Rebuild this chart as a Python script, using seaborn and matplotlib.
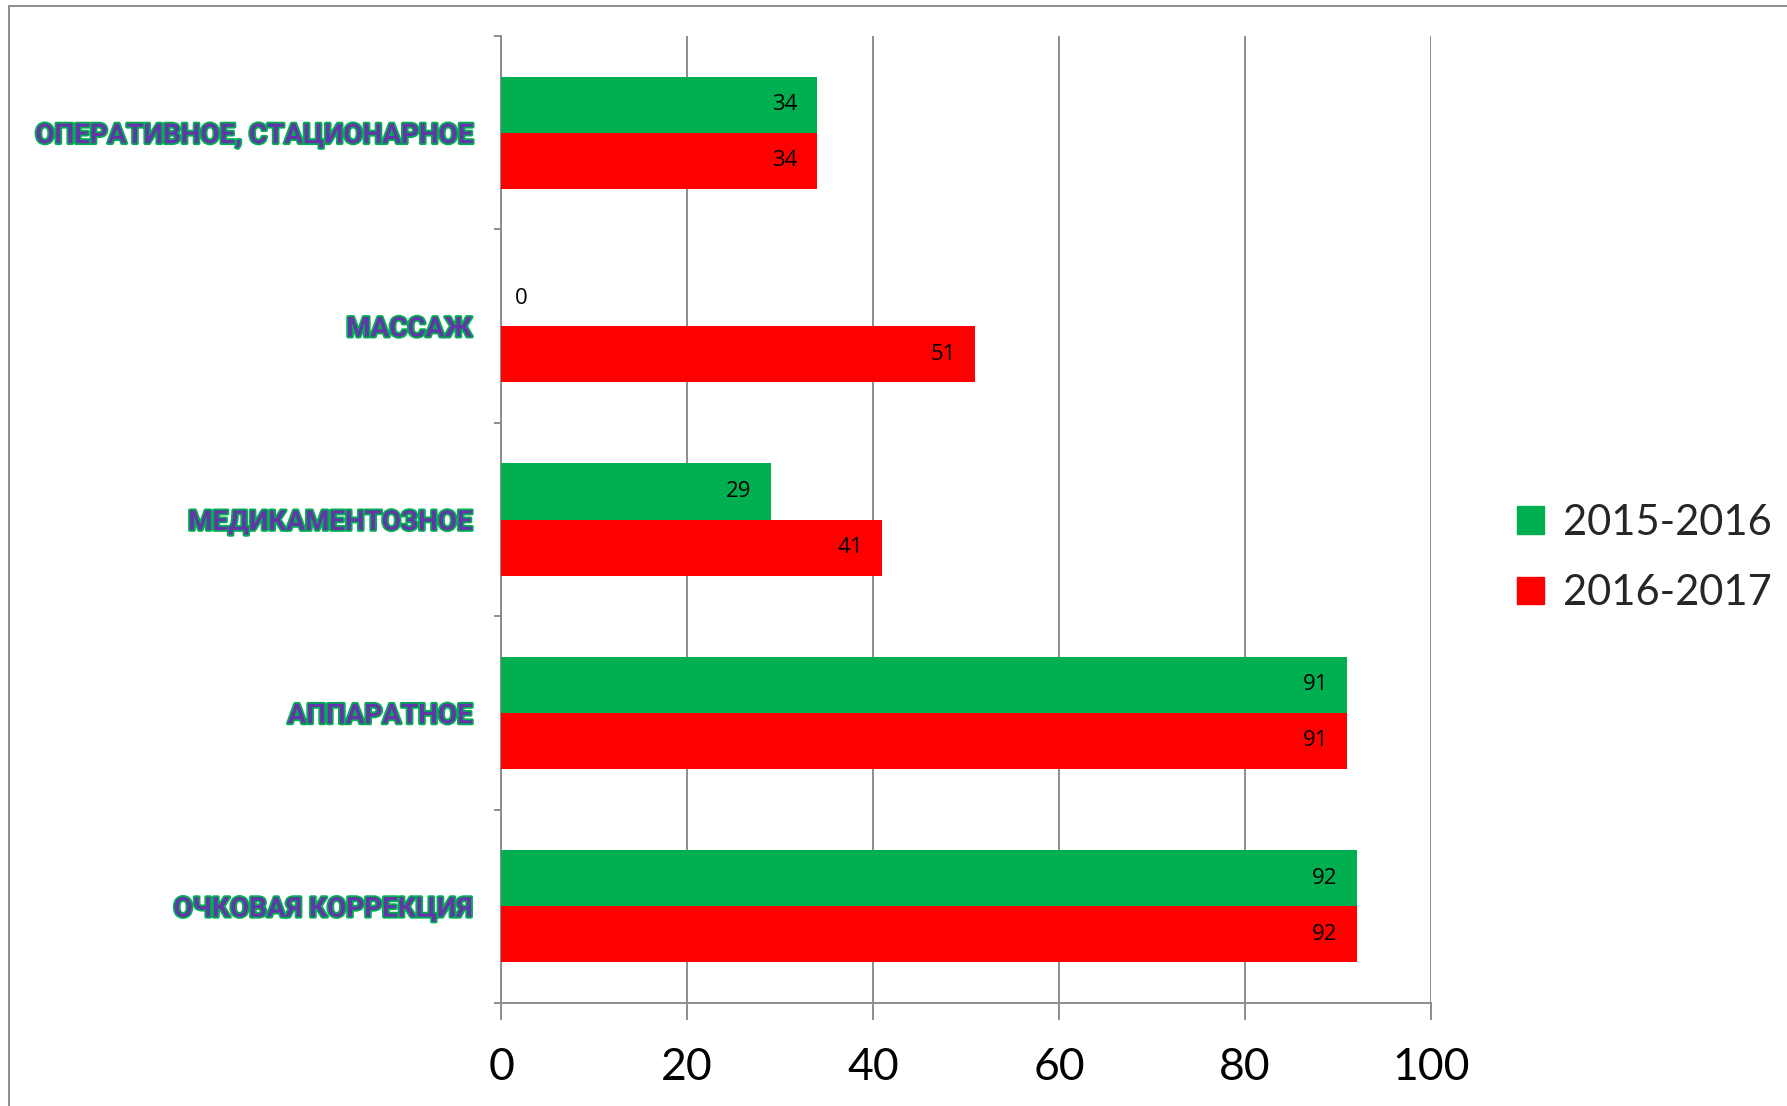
import pandas as pd
import numpy as np
import matplotlib.pyplot as plt
import matplotlib.patheffects as pe
from matplotlib.lines import Line2D
import seaborn as sns

categories = ['ОПЕРАТИВНОЕ, СТАЦИОНАРНОЕ', 'МАССАЖ', 'МЕДИКАМЕНТОЗНОЕ',
              'АППАРАТНОЕ', 'ОЧКОВАЯ КОРРЕКЦИЯ']
years = ['2015-2016', '2016-2017']
values_2015 = [34, 0, 29, 91, 92]
values_2016 = [34, 51, 41, 91, 92]

df = pd.DataFrame({
    'category': categories * 2,
    'year': [years[0]] * 5 + [years[1]] * 5,
    'value': values_2015 + values_2016,
})

sns.set_style('white')
plt.rcParams['font.family'] = ['Lato', 'Open Sans', 'DejaVu Sans']

fig = plt.figure(figsize=(17.87, 11.06), dpi=100)
ax = fig.add_axes([0.2804, 0.0931, 0.5204, 0.8743])

sns.barplot(data=df, y='category', x='value', hue='year', orient='h',
            order=categories, hue_order=years,
            palette=['#00B050', '#FF0000'], width=0.58, saturation=1,
            linewidth=0, ax=ax, zorder=3)

ax.set_xlim(0, 100)
ax.set_ylim(4.5, -0.5)
ax.set_xticks(np.arange(0, 101, 20))
ax.set_xlabel('')
ax.set_ylabel('')

grid_c = '#8c8c8c'
ax.grid(axis='x', color=grid_c, linewidth=1.4, zorder=0)
ax.grid(axis='y', visible=False)
for s in ['top', 'right']:
    ax.spines[s].set_visible(False)
for s in ['left', 'bottom']:
    ax.spines[s].set_color(grid_c)
    ax.spines[s].set_linewidth(1.4)

ax.tick_params(axis='x', direction='out', length=12, width=1.4, color=grid_c,
               labelsize=32, pad=20, bottom=True, labelcolor='black')
ax.set_yticks(np.arange(-0.5, 5, 1), minor=True)
ax.tick_params(axis='y', which='minor', direction='out', length=5, width=1.4,
               color=grid_c, left=True)
ax.tick_params(axis='y', which='major', length=0, pad=21)

for lab in ax.get_yticklabels():
    lab.set_fontsize(20)
    lab.set_fontweight('bold')
    lab.set_family(['Roboto', 'Noto Sans', 'DejaVu Sans'])
    lab.set_color('#6236a8')
    lab.set_path_effects([pe.withStroke(linewidth=2.6, foreground='#00B050')])

for cont in ax.containers:
    for p in cont:
        w = p.get_width()
        yc = p.get_y() + p.get_height() / 2
        if w > 0:
            ax.annotate(f'{w:.0f}', (w, yc), xytext=(-14, 0),
                        textcoords='offset points', ha='right', va='center',
                        fontsize=16, color='black',
                        family=['Open Sans', 'DejaVu Sans'])
        else:
            ax.annotate(f'{w:.0f}', (w, yc), xytext=(10, 0),
                        textcoords='offset points', ha='left', va='center',
                        fontsize=16, color='black',
                        family=['Open Sans', 'DejaVu Sans'])

ax.legend_.remove()
handles = [plt.Rectangle((0, 0), 1, 1, color=c) for c in ['#00B050', '#FF0000']]
fig.legend(handles, years, loc='center left', bbox_to_anchor=(0.828, 0.4955),
           frameon=False, handlelength=0.65, handleheight=0.65,
           handletextpad=0.45, labelspacing=0.78,
           prop={'family': ['Lato', 'Open Sans', 'DejaVu Sans'], 'size': 30})

fig.add_artist(Line2D([0.005, 0.005], [0, 0.9946], transform=fig.transFigure,
                      color=grid_c, linewidth=1.4))
fig.add_artist(Line2D([0.005, 1], [0.9946, 0.9946], transform=fig.transFigure,
                      color=grid_c, linewidth=1.4))

fig.savefig('out.png', dpi=100)
